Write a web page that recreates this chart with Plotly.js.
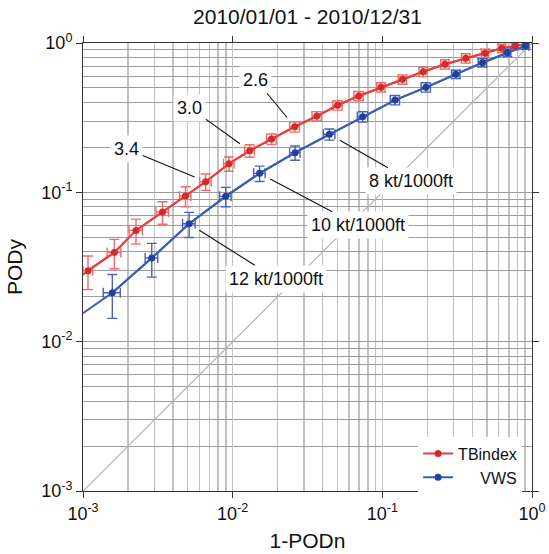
<!DOCTYPE html>
<html>
<head>
<meta charset="utf-8">
<script src="https://cdn.plot.ly/plotly-3.0.1.min.js"></script>
<style>html,body{margin:0;padding:0;background:#fff;}#chart{width:549px;height:554px;}</style>
</head>
<body>
<div id="chart"></div>
<script>
// ---- data ----
var titleText = '2010/01/01 - 2010/12/31';

// TBindex (red)
var tbX  = [0.00108, 0.00162, 0.00226, 0.0034, 0.00484, 0.0066, 0.00945, 0.0130, 0.0182, 0.026, 0.0365, 0.0503, 0.0695, 0.098, 0.1365, 0.1876, 0.262, 0.361, 0.486, 0.628, 0.77, 0.908];
var tbY  = [0.0299, 0.0396, 0.0556, 0.0738, 0.0944, 0.1178, 0.1554, 0.190, 0.2275, 0.275, 0.324, 0.383, 0.442, 0.505, 0.571, 0.642, 0.720, 0.790, 0.853, 0.921, 0.955, 0.985];
var tbEY = [0.0076, 0.0088, 0.0106, 0.0127, 0.0145, 0.0148, 0.0169, 0.0184, 0.0182, 0.022, 0.0233, 0.0276, 0.0318, 0.0364, 0.0411, 0.0462, 0.0518, 0.0569, 0.0546, 0.0589, 0.0525, 0.0542];
var tbEX = [0.000081, 0.00017, 0.00023, 0.000328, 0.000426, 0.000581, 0.000754, 0.000971, 0.00136, 0.00194, 0.00261, 0.0036, 0.00497, 0.00621, 0.00865, 0.0119, 0.0166, 0.0229, 0.0267, 0.0345, 0.0362, 0.0427];
var tbLeadX = 0.001, tbLeadY = 0.0281;   // where the red line meets the left axis

// VWS (blue)
var vwsX  = [0.00157, 0.00288, 0.00512, 0.00898, 0.01514, 0.0261, 0.0443, 0.0739, 0.1216, 0.1956, 0.31, 0.4664, 0.6845, 0.908];
var vwsY  = [0.02126, 0.0363, 0.0616, 0.094, 0.134, 0.1842, 0.2446, 0.3209, 0.415, 0.505, 0.617, 0.738, 0.861, 0.959];
var vwsEY = [0.00693, 0.00924, 0.0118, 0.014, 0.0159, 0.0201, 0.0208, 0.0257, 0.0299, 0.0364, 0.0395, 0.0472, 0.0474, 0.0527];
var vwsEX = [0.000205, 0.000278, 0.000494, 0.00079, 0.00133, 0.00208, 0.0039, 0.0059, 0.0087, 0.014, 0.0197, 0.0296, 0.0376, 0.0427];
var vwsLeadX = 0.001, vwsLeadY = 0.0155;  // where the blue line meets the left axis

// diagonal reference line
var diagX = [0.001, 1];
var diagY = [0.001, 1];

// threshold labels: [point index, text]
var tbLabels  = [[9, '2.6'], [7, '3.0'], [5, '3.4']];
var vwsLabels = [[6, '8 kt/1000ft'], [4, '10 kt/1000ft'], [2, '12 kt/1000ft']];

// ticks
var decades = [0.001, 0.01, 0.1, 1];
var decadeText = ['10<sup>-3</sup>', '10<sup>-2</sup>', '10<sup>-1</sup>', '10<sup>0</sup>'];
var subTickDigits = [2, 5];

// ---- build ----
var subTickVals = [], minorVals = [];
decades.forEach(function(d) {
  if (d < 1) {
    subTickDigits.forEach(function(k) { subTickVals.push(k * d); });
    for (var k = 2; k <= 9; k++) minorVals.push(k * d);
  }
});

var RED_LINE = '#ee3b3b', RED_MK = '#d42a2a', RED_ERR = '#f06a6a';
var BLUE_LINE = '#3c5cb4', BLUE_MK = '#23409e', BLUE_ERR = '#4664b8';
var FRAME = '#333333';
var FONT = 'Liberation Sans, Arial, Helvetica, sans-serif';

var traces = [
  {x: diagX, y: diagY, mode: 'lines', line: {color: '#b4b4b4', width: 1.2}, showlegend: false, hoverinfo: 'skip'},
  {x: [tbLeadX].concat(tbX), y: [tbLeadY].concat(tbY), mode: 'lines', line: {color: RED_LINE, width: 2}, showlegend: false},
  {x: [vwsLeadX].concat(vwsX), y: [vwsLeadY].concat(vwsY), mode: 'lines', line: {color: BLUE_LINE, width: 2}, showlegend: false},
  {x: tbX, y: tbY, name: 'TBindex', mode: 'lines+markers',
   line: {color: RED_LINE, width: 2}, marker: {color: RED_MK, size: 7},
   error_y: {type: 'data', array: tbEY, visible: true, color: RED_ERR, thickness: 1.4, width: 5},
   error_x: {type: 'data', array: tbEX, visible: true, color: RED_ERR, thickness: 1.4, width: 5}},
  {x: vwsX, y: vwsY, name: '\u00a0\u00a0\u00a0\u00a0\u00a0VWS', mode: 'lines+markers',
   line: {color: BLUE_LINE, width: 2}, marker: {color: BLUE_MK, size: 7},
   error_y: {type: 'data', array: vwsEY, visible: true, color: BLUE_ERR, thickness: 1.4, width: 5},
   error_x: {type: 'data', array: vwsEX, visible: true, color: BLUE_ERR, thickness: 1.4, width: 5}}
];

function axis(titleText, standoff, gridColor, gridWidth) {
  return {
    type: 'log', range: [-3, 0],
    tickmode: 'array', tickvals: decades, ticktext: decadeText,
    ticks: 'outside', ticklen: 6, tickwidth: 1, tickcolor: FRAME,
    showgrid: true, gridcolor: gridColor, gridwidth: gridWidth,
    minor: {tickmode: 'array', tickvals: minorVals, showgrid: true, gridcolor: gridColor, gridwidth: gridWidth, ticks: ''},
    showline: true, linecolor: FRAME, linewidth: 1, mirror: 'ticks',
    zeroline: false,
    tickfont: {family: FONT, size: 18, color: '#111'},
    title: {text: titleText, font: {family: FONT, size: 21, color: '#111'}, standoff: standoff}
  };
}
function subAxis(over, anchor) {
  return {
    type: 'log', range: [-3, 0], overlaying: over, anchor: anchor,
    tickmode: 'array', tickvals: subTickVals, showticklabels: false,
    ticks: 'outside', ticklen: 4, tickwidth: 1, tickcolor: FRAME,
    showgrid: false, zeroline: false, showline: true, linecolor: FRAME, linewidth: 1, mirror: 'ticks'
  };
}

var annotations = [];
function addLabels(list, xs, ys, offsets) {
  list.forEach(function(l, i) {
    var idx = l[0];
    annotations.push({
      x: Math.log10(xs[idx]), y: Math.log10(ys[idx]), xref: 'x', yref: 'y',
      text: l[1], showarrow: true, arrowhead: 0, arrowwidth: 1.1, arrowcolor: '#111',
      ax: offsets[i][0], ay: offsets[i][1], standoff: 12,
      bgcolor: '#ffffff', borderpad: 3,
      font: {family: FONT, size: 18, color: '#111'}
    });
  });
}
addLabels(tbLabels, tbX, tbY, [[-39, -47], [-60, -43], [-79, -33]]);
addLabels(vwsLabels, vwsX, vwsY, [[82, 47], [98, 52], [87, 55]]);

var layout = {
  width: 549, height: 554,
  margin: {l: 83, r: 17, t: 43, b: 63, pad: 0},
  paper_bgcolor: '#ffffff', plot_bgcolor: '#ffffff',
  font: {family: FONT, color: '#111'},
  title: {text: titleText, font: {family: FONT, size: 21, color: '#111'},
          x: 0.5, xref: 'paper', xanchor: 'center', y: 1 - 17 / 554, yref: 'container', yanchor: 'middle'},
  xaxis: axis('1-PODn', 10, '#c2c2c2', 1.4),
  yaxis: axis('PODy', 12, '#9c9c9c', 1),
  xaxis2: subAxis('x', 'y'),
  yaxis2: subAxis('y', 'x'),
  showlegend: true,
  legend: {x: 0.978, xanchor: 'right', y: -0.008, yanchor: 'bottom', bgcolor: '#ffffff',
           borderwidth: 0, font: {family: FONT, size: 16, color: '#111'}, tracegroupgap: 0},
  annotations: annotations
};

Plotly.newPlot('chart', traces, layout, {staticPlot: true, displayModeBar: false});
</script>
</body>
</html>
